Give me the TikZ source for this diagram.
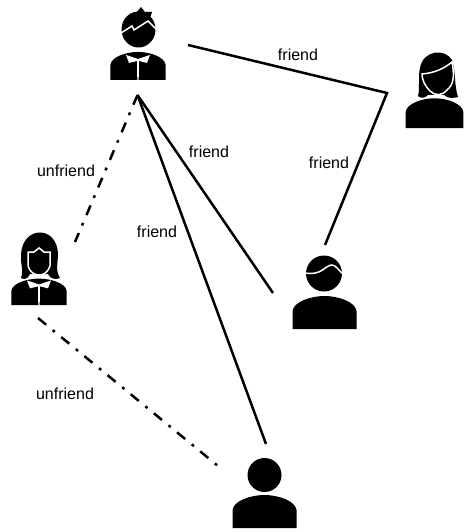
\documentclass[tikz,border=0pt]{standalone}
\usepackage{fontspec}
\setmainfont{Liberation Sans}
\usetikzlibrary{positioning}
\tikzset{
        % Connectors
        link_friend/.style={line width=2.5pt, black},
        link_unfriend/.style={line width=2.5pt, black, dash pattern=on 10.5pt off 8.5pt on 2.8pt off 8.2pt},
        % Labels
        link_label/.style={inner sep=0pt, text=black, font=\fontsize{16pt}{18pt}\selectfont},
        % Icon parts
        icon_fill/.style={fill=black, draw=none},
        icon_cut/.style={draw=white, line width=1.5pt, fill=none},
        pics/bust/.style={code={
            \fill[icon_fill] (-32,0) -- (-32,-18) .. controls (-31,-27) and (-14,-33) .. (0,-33)
                .. controls (14,-33) and (31,-27) .. (32,-18) -- (32,0) -- cycle;
        }},
        pics/bow/.style={code={
            \fill[white] (-12,-25) -- (0,-21) -- (12,-25) -- (9,-17) -- (1,-19) -- (0.7,0) -- (-0.7,0) -- (-1,-19) -- (-9,-17) -- cycle;
        }}
}
\begin{document}
\begin{tikzpicture}[x=1pt, y=-1pt]
    \useasboundingbox (0,0) rectangle (463,532);
    % Top man
    \pic at (138,80) [xscale=0.86, yscale=0.85] {bust};
    \pic at (138,80) {bow};
    \fill[icon_fill] (138.5,29.5) circle [x radius=17, y radius=18];
    \fill[icon_fill] (136,13) -- (141,7) -- (145,12) -- (152,12) -- (150,18) -- cycle;
    \draw[icon_cut] (121,33) -- (132,26) -- (134,30) -- (148,21) -- (156,29);
    % Right woman
    \pic at (434.5,128) [xscale=0.9, yscale=0.9] {bust};
    \fill[icon_fill] (428,95) .. controls (424,99) and (420,98) .. (418,96) .. controls (420,90) and (418,75) .. (420,68)
        .. controls (423,50) and (445,48) .. (452,60) .. controls (456,72) and (454,85) .. (458,97)
        .. controls (454,98) and (448,99) .. (444,95) -- cycle;
    \draw[icon_cut] (422,74) .. controls (435,73) and (445,68) .. (452,62)
        .. controls (455,78) and (453,85) .. (447,90) .. controls (442,96) and (435,96) .. (430,91)
        .. controls (425,86) and (422,80) .. (422,74) -- cycle;
    % Left woman
    \pic at (39,305) [xscale=0.86, yscale=0.8] {bust};
    \pic at (39,305) [yscale=0.98] {bow};
    \fill[icon_fill] (30,274) .. controls (28,279) and (24,280) .. (21,278) .. controls (24,270) and (20,262) .. (21,255)
        .. controls (22,225) and (58,225) .. (58,255) .. controls (58,262) and (55,270) .. (60,278)
        .. controls (56,280) and (50,279) .. (48,274) -- cycle;
    \draw[icon_cut] (28,252) -- (34,252) -- (39,248) -- (44,252) -- (50,252)
        -- (50,266) .. controls (48,272) and (44,275) .. (39,275)
        .. controls (34,275) and (30,272) .. (28,266) -- cycle;
    % Right man
    \pic at (324.5,329) {bust};
    \fill[icon_fill] (324,273.5) circle [radius=18];
    \draw[icon_cut] (305,273) .. controls (322,276) and (325,265) .. (332,265) .. controls (336,265) and (338,270) .. (343,274);
    % Bottom man
    \pic at (264.5,528) {bust};
    \fill[icon_fill] (264.5,475) circle [radius=17];
    % Connector ends
    \coordinate (boss) at (137.5,95);
    \coordinate (boss_side) at (188,45);
    \coordinate (corner) at (387,93);
    \coordinate (peer_top) at (325,245);
    \coordinate (peer_left) at (273,293);
    \coordinate (lower_top) at (266,444);
    \coordinate (lower_left) at (218,466);
    \coordinate (girl_top) at (75,242);
    \coordinate (girl_low) at (38,318);
    % Connectors
    \draw[link_friend] (boss_side) -- (corner) -- (peer_top);
    \draw[link_friend] (boss) -- (peer_left);
    \draw[link_friend] (boss) -- (lower_top);
    \draw[link_unfriend] (boss) -- (girl_top);
    \draw[link_unfriend] (girl_low) -- (lower_left);
    % Labels
    \node[link_label] (lab_top) at (298,55) {friend};
    \node[link_label] (lab_side) at (329,163) {friend};
    \node[link_label] (lab_mid) at (209,152) {friend};
    \node[link_label] (lab_low) at (157,232) {friend};
    \node[link_label] (lab_un_top) at (66,171) {unfriend};
    \node[link_label] (lab_un_low) at (65,394) {unfriend};
\end{tikzpicture}
\end{document}
